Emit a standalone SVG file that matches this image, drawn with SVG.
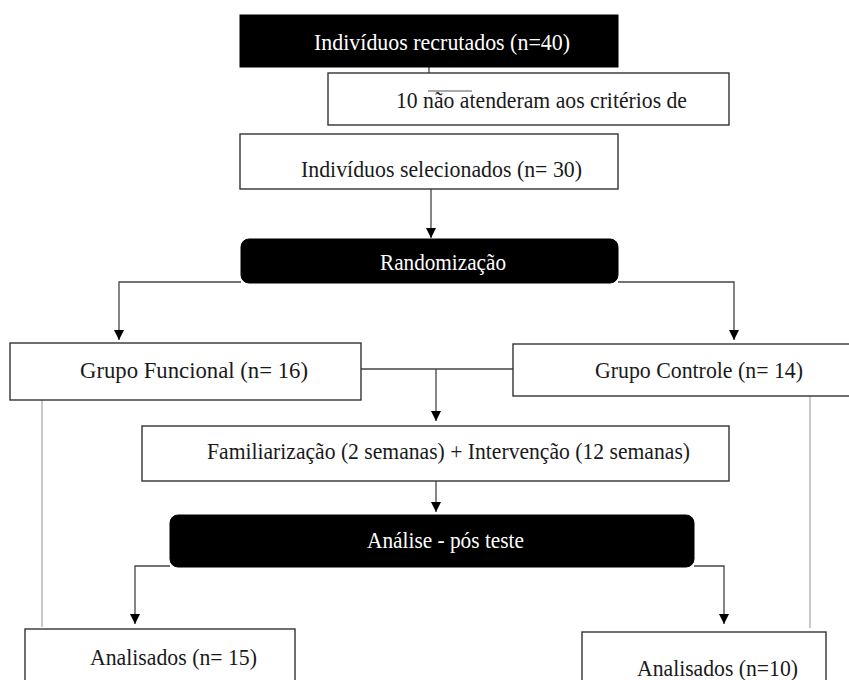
<svg xmlns="http://www.w3.org/2000/svg" width="849" height="680" viewBox="0 0 849 680" font-family="'Liberation Serif', 'Times New Roman', serif">
<style>
.box{fill:#fff;stroke:#333;stroke-width:1.4}
.dark{fill:#000;stroke:#000;stroke-width:1}
.t{font-family:'Liberation Serif','Times New Roman',serif;font-size:23px;fill:#1a1a1a}
.w{fill:#fff}
.c{fill:none;stroke:#444;stroke-width:1.3}
.g{fill:none;stroke:#bbb;stroke-width:1.6}
</style>
<defs>
<marker id="ah" viewBox="0 0 10 10" refX="10" refY="5" markerWidth="10" markerHeight="10" markerUnits="userSpaceOnUse" orient="auto">
<path d="M0,0 L10,5 L0,10 z" fill="#000"/>
</marker>
</defs>
<rect width="849" height="680" fill="#fff"/>
<g id="connectors">
<path class="c" d="M429,67 V73"/>
<path class="c" d="M431,189 V238" marker-end="url(#ah)"/>
<path class="c" d="M241,282 H119 V340" marker-end="url(#ah)"/>
<path class="c" d="M618,282 H734 V340" marker-end="url(#ah)"/>
<path class="c" d="M361,369 H513"/>
<path class="c" d="M436,369 V421" marker-end="url(#ah)"/>
<path class="c" d="M436,481 V512" marker-end="url(#ah)"/>
<path class="c" d="M170,566 H135 V624" marker-end="url(#ah)"/>
<path class="c" d="M694,566 H724 V624" marker-end="url(#ah)"/>
<path class="g" d="M42,400 V627"/>
<path class="g" d="M810,396 V628"/>
</g>
<g id="recrutados">
<rect class="dark" x="240" y="15" width="378" height="52"/>
<text class="t w" x="314" y="50" textLength="256" lengthAdjust="spacingAndGlyphs">Indivíduos recrutados (n=40)</text>
</g>
<g id="exclusao">
<rect class="box" x="328" y="73" width="401" height="52"/>
<line x1="428" y1="91" x2="472" y2="91" stroke="#555" stroke-width="1.2"/>
<text class="t" x="396" y="108" textLength="291" lengthAdjust="spacingAndGlyphs">10 não atenderam aos critérios de</text>
</g>
<g id="selecionados">
<rect class="box" x="240" y="134" width="378" height="55"/>
<text class="t" x="301" y="177" textLength="281" lengthAdjust="spacingAndGlyphs">Indivíduos selecionados (n= 30)</text>
</g>
<g id="randomizacao">
<rect class="dark" x="241" y="239" width="377" height="44" rx="8"/>
<text class="t w" x="380" y="270" textLength="126" lengthAdjust="spacingAndGlyphs">Randomização</text>
</g>
<g id="funcional">
<rect class="box" x="10" y="343" width="351" height="57"/>
<text class="t" x="80" y="378" textLength="228" lengthAdjust="spacingAndGlyphs">Grupo Funcional (n= 16)</text>
</g>
<g id="controle">
<rect class="box" x="513" y="344" width="345" height="52"/>
<text class="t" x="595" y="378" textLength="208" lengthAdjust="spacingAndGlyphs">Grupo Controle (n= 14)</text>
</g>
<g id="intervencao">
<rect class="box" x="142" y="426" width="587" height="55"/>
<text class="t" x="207" y="459" textLength="483" lengthAdjust="spacingAndGlyphs">Familiarização (2 semanas) + Intervenção (12 semanas)</text>
</g>
<g id="analise">
<rect class="dark" x="170" y="515" width="524" height="52" rx="8"/>
<text class="t w" x="367" y="548" textLength="157" lengthAdjust="spacingAndGlyphs">Análise - pós teste</text>
</g>
<g id="analisados15">
<rect class="box" x="25" y="629" width="270" height="60"/>
<text class="t" x="90" y="665" textLength="167" lengthAdjust="spacingAndGlyphs">Analisados (n= 15)</text>
</g>
<g id="analisados10">
<rect class="box" x="582" y="632" width="244" height="60"/>
<text class="t" x="637" y="676" textLength="161" lengthAdjust="spacingAndGlyphs">Analisados (n=10)</text>
</g>
</svg>
